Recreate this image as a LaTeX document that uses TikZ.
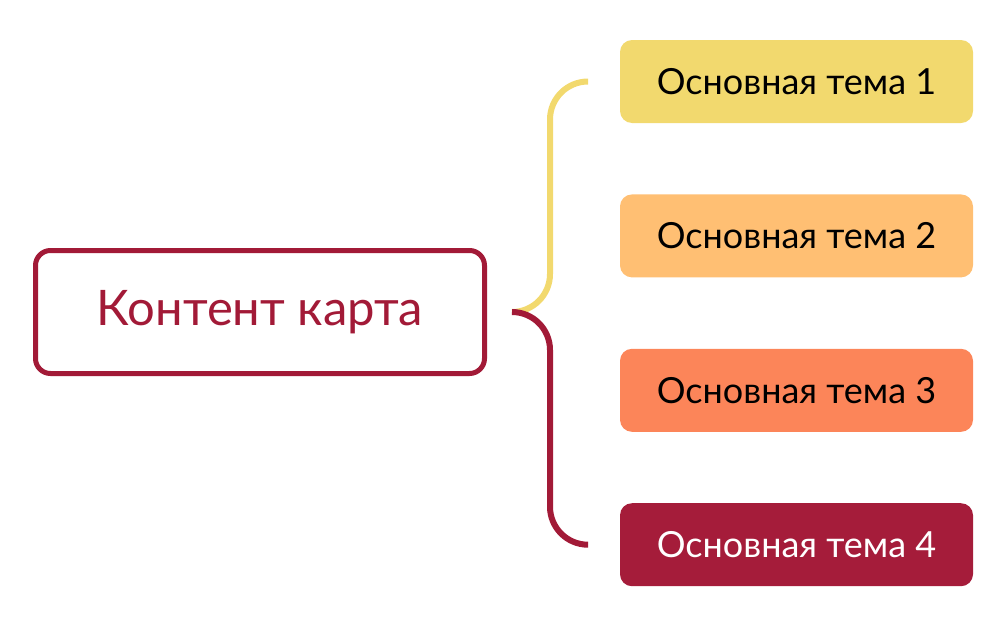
\documentclass[tikz,border=0pt]{standalone}
\usepackage{fontspec}
\setmainfont{Lato}
\usetikzlibrary{positioning}
\definecolor{crimson}{HTML}{A21A37}
\definecolor{topicyellow}{HTML}{F2D96E}
\definecolor{topicorange}{HTML}{FFBF73}
\definecolor{topiccoral}{HTML}{FC8559}
\definecolor{topicred}{HTML}{A51C3A}
\tikzset{
  topic/.style={shape=rectangle, rounded corners=12pt, minimum width=353pt, minimum height=83pt, font=\fontsize{36}{42}\selectfont},
  branch/.style={line width=6pt, rounded corners=38pt}
}

\begin{document}
\begin{tikzpicture}[x=1pt, y=-1pt]
    \useasboundingbox (0,0) rectangle (1006,624);
    \node[shape=rectangle, draw=crimson, line width=5pt, rounded corners=15pt, minimum width=449pt, minimum height=123pt, text=crimson, font=\fontsize{49}{56}\selectfont] (main) at (260,312) {Контент карта};
    \node[topic, fill=topicyellow] (t1) at (796.5,81.5) {Основная тема 1};
    \node[topic, fill=topicorange, below = 71pt of t1] (t2) {Основная тема 2};
    \node[topic, fill=topiccoral, below = 71pt of t2] (t3) {Основная тема 3};
    \node[topic, fill=topicred, text=white, below = 71pt of t3] (t4) {Основная тема 4};
    \coordinate[right = 25pt of main.east] (hub);

    % branches from the hub to the first and last topic
    \draw[branch, draw=topicyellow] (hub) -- ++(38,0) |- ([xshift=-32pt]t1.west);
    \draw[branch, draw=crimson] (hub) -- ++(38,0) |- ([xshift=-32pt]t4.west);
\end{tikzpicture}
\end{document}
